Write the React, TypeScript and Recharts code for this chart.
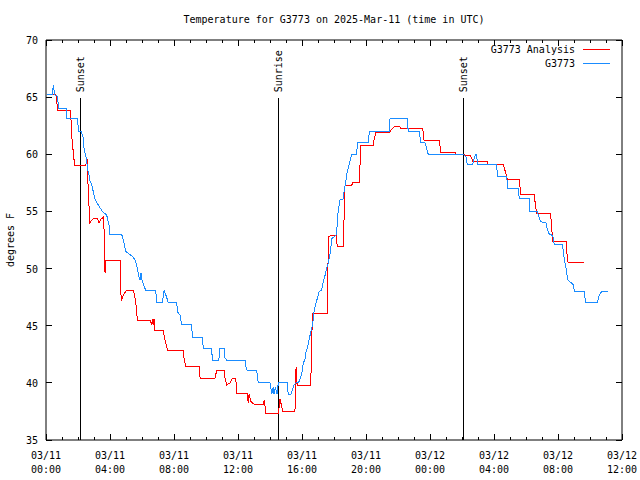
import { LineChart, Line, XAxis, YAxis, ReferenceArea, ReferenceLine } from "recharts";

// hours since 03/11 00:00 UTC, temperatures in degrees F
const obsHours = [
  0.04, 0.38, 0.47, 0.5, 0.56, 0.69, 0.81, 1.29, 1.3, 1.96,
  2.04, 2.21, 2.33, 2.38, 2.48, 2.54, 2.58, 2.69, 2.75, 2.86,
  2.96, 3.06, 3.25, 3.52, 3.79, 3.94, 3.98, 4.73, 4.88, 4.98,
  5.46, 5.61, 5.71, 5.81, 5.88, 5.94, 6.0, 6.23, 6.86, 6.92,
  7.27, 7.38, 7.54, 7.64, 8.17, 8.23, 8.38, 8.48, 9.11, 9.14,
  9.77, 9.83, 10.36, 10.39, 10.81, 10.83, 11.13, 11.19, 11.29, 12.44,
  12.5, 12.58, 13.17, 13.23, 13.27, 14.0, 14.11, 14.19, 14.25, 14.33,
  14.44, 14.52, 15.08, 15.14, 15.31, 15.5, 15.63, 15.83, 15.92, 16.02,
  16.08, 16.19, 16.25, 16.36, 16.46, 16.56, 16.67, 16.71, 16.77, 16.88,
  16.98, 17.08, 17.23, 17.33, 17.44, 17.54, 17.64, 17.71, 17.79, 17.86,
  18.17, 18.21, 18.27, 18.38, 18.58, 18.64, 18.75, 18.83, 18.96, 19.04,
  19.11, 19.42, 19.46, 20.14, 20.21, 21.46, 21.5, 22.58, 22.64, 23.33,
  23.42, 23.69, 23.89, 26.08, 26.25, 26.33, 26.67, 26.75, 26.84, 26.92,
  26.96, 28.17, 28.21, 28.79, 28.86, 29.52, 29.58, 30.21, 30.25, 30.71,
  30.77, 30.92, 31.25, 31.33, 31.46, 31.67, 31.77, 32.29, 32.33, 32.39,
  32.48, 32.54, 32.61, 32.96, 33.02, 33.64, 33.73, 34.46, 34.52, 34.58,
  34.73, 35.14,
];
const obsTemps = [
  65.2, 65.2, 66.1, 65.6, 65.2, 65.1, 64.0, 64.0, 63.1, 63.1,
  62.0, 62.0, 61.4, 60.5, 59.9, 59.6, 58.8, 58.2, 57.7, 57.3,
  56.7, 56.1, 55.6, 55.0, 54.7, 53.8, 53.0, 53.0, 52.2, 51.5,
  51.0, 50.6, 50.0, 49.3, 49.0, 49.6, 49.0, 48.1, 48.1, 47.0,
  47.0, 48.1, 47.5, 47.0, 47.0, 46.2, 45.9, 45.1, 45.1, 44.0,
  44.0, 43.0, 43.0, 42.0, 42.0, 43.0, 43.0, 42.2, 42.0, 42.0,
  41.4, 41.1, 41.1, 40.4, 40.0, 40.0, 39.0, 39.6, 39.0, 39.6,
  39.0, 40.0, 40.0, 39.0, 39.0, 39.8, 40.0, 40.1, 40.5, 41.1,
  41.7, 42.1, 42.7, 43.2, 43.9, 44.5, 45.1, 45.8, 46.4, 47.0,
  47.5, 48.0, 48.1, 48.9, 49.4, 50.0, 50.5, 51.0, 51.6, 52.6,
  53.0, 54.3, 55.1, 56.0, 56.1, 56.9, 57.7, 58.5, 59.2, 59.6,
  60.0, 60.0, 61.0, 61.0, 62.0, 62.0, 63.1, 63.1, 62.0, 62.0,
  61.0, 61.0, 60.0, 60.0, 59.8, 59.1, 59.1, 59.6, 60.0, 60.0,
  59.1, 59.1, 58.1, 58.1, 57.0, 57.0, 56.1, 56.1, 55.0, 55.0,
  54.7, 54.1, 54.0, 53.4, 53.0, 52.9, 52.1, 52.1, 51.5, 50.9,
  50.2, 49.7, 49.0, 48.6, 48.0, 48.0, 47.0, 47.0, 47.4, 47.7,
  48.0, 48.0,
];

const anaHours = [
  0.04, 0.61, 0.67, 0.71, 1.54, 1.6, 1.69, 1.79, 2.48, 2.58,
  2.6, 2.69, 2.73, 2.89, 3.0, 3.21, 3.31, 3.42, 3.58, 3.63,
  3.67, 3.69, 3.72, 4.63, 4.67, 4.71, 4.88, 5.04, 5.46, 5.61,
  5.71, 6.5, 6.61, 6.64, 6.69, 6.75, 6.81, 7.33, 7.44, 7.61,
  8.58, 8.64, 8.75, 9.58, 9.63, 10.56, 10.67, 11.13, 11.19, 11.29,
  11.5, 11.64, 11.86, 11.92, 12.58, 12.64, 12.69, 12.79, 13.02, 13.58,
  13.64, 13.75, 14.52, 14.63, 14.73, 14.79, 15.56, 15.63, 15.67, 15.73,
  16.54, 16.61, 16.64, 17.58, 17.61, 17.67, 17.79, 18.13, 18.21, 18.58,
  18.63, 18.69, 19.11, 19.17, 19.58, 19.63, 19.67, 20.46, 20.52, 20.61,
  21.46, 21.61, 21.75, 22.13, 22.17, 23.54, 23.63, 24.58, 24.67, 25.56,
  25.63, 26.5, 26.56, 26.67, 27.58, 27.64, 28.58, 28.64, 28.75, 28.83,
  29.58, 29.67, 30.5, 30.56, 30.67, 31.54, 31.61, 31.67, 32.5, 32.58,
  32.64, 33.64,
];
const anaTemps = [
  65.2, 65.2, 64.9, 63.8, 63.8, 61.7, 60.4, 59.0, 59.0, 59.6,
  58.2, 55.4, 54.0, 54.3, 54.4, 54.4, 54.0, 54.3, 54.5, 53.4,
  50.7, 49.6, 50.7, 50.7, 48.1, 47.2, 47.8, 48.1, 48.1, 47.1,
  45.5, 45.5, 45.1, 45.6, 45.1, 45.6, 44.6, 44.6, 43.7, 42.8,
  42.8, 42.0, 41.4, 41.4, 40.4, 40.4, 41.1, 41.1, 40.4, 39.8,
  40.0, 40.4, 40.4, 39.1, 39.1, 38.2, 39.0, 38.4, 38.1, 38.1,
  38.5, 37.3, 37.3, 38.6, 37.9, 37.5, 37.5, 41.4, 40.0, 39.8,
  39.8, 43.0, 46.1, 46.1, 49.6, 52.8, 52.9, 52.9, 51.9, 51.9,
  54.5, 57.3, 57.3, 57.5, 57.5, 59.2, 60.8, 60.8, 61.4, 61.9,
  61.9, 62.2, 62.4, 62.4, 62.3, 62.3, 61.2, 61.2, 60.2, 60.2,
  60.0, 59.9, 59.8, 59.4, 59.4, 59.1, 59.1, 58.8, 58.3, 57.8,
  57.8, 56.5, 56.5, 55.9, 54.8, 54.8, 53.5, 52.4, 52.4, 51.0,
  50.5, 50.5,
];

const hourTicks = Array.from({ length: 37 }, (_, i) => i);
const xTickDates = ["03/11", "03/11", "03/11", "03/11", "03/11", "03/11", "03/12", "03/12", "03/12", "03/12"];
const xTickTimes = ["00:00", "04:00", "08:00", "12:00", "16:00", "20:00", "00:00", "04:00", "08:00", "12:00"];
const yTicks = [35, 40, 45, 50, 55, 60, 65, 70];

const sunEvents = ["Sunset", "Sunrise", "Sunset"];
const sunHours = [2.13, 14.52, 26.08];

const seriesNames = ["G3773 Analysis", "G3773"];
const seriesColors = ["#ff0000", "#1a8cff"];

const obsData = obsHours.map((h, i) => ({ h, t: obsTemps[i] }));
const anaData = anaHours.map((h, i) => ({ h, t: anaTemps[i] }));

const FONT = "'DejaVu Sans Mono', monospace";
const W = 640;
const H = 480;
const M = { top: 40, right: 18, bottom: 0, left: 0 };
const PLOT_W = W - 46 - M.right;
const PLOT_H = H - M.top - 40;
const SUN_TOP = 64.9;

const XTick = (props: any) => {
  const { x, y, payload } = props;
  const h = payload.value;
  const major = h % 4 === 0;
  const len = major ? 6 : 3;
  return (
    <g>
      <line x1={x} y1={y} x2={x} y2={y - len} stroke="#000" shapeRendering="crispEdges" />
      <line x1={x} y1={y - PLOT_H} x2={x} y2={y - PLOT_H + len} stroke="#000" shapeRendering="crispEdges" />
      {major && (
        <text x={x} y={y + 19} textAnchor="middle" fontFamily={FONT} fontSize={10} fill="#000">
          <tspan x={x}>{xTickDates[h / 4]}</tspan>
          <tspan x={x} dy={14}>{xTickTimes[h / 4]}</tspan>
        </text>
      )}
    </g>
  );
};

const YTick = (props: any) => {
  const { x, y, payload } = props;
  return (
    <g>
      <line x1={x} y1={y} x2={x + 6} y2={y} stroke="#000" shapeRendering="crispEdges" />
      <line x1={x + PLOT_W} y1={y} x2={x + PLOT_W - 6} y2={y} stroke="#000" shapeRendering="crispEdges" />
      <text x={x - 8} y={y + 4} textAnchor="end" fontFamily={FONT} fontSize={10} fill="#000">
        {payload.value}
      </text>
    </g>
  );
};

const sunShape = (name: string) => (p: any) => (
  <g>
    <line x1={p.x1} y1={p.y1} x2={p.x2} y2={p.y2} stroke="#000" shapeRendering="crispEdges" />
    <text
      x={p.x1 + 4}
      y={Math.min(p.y1, p.y2) - 6}
      transform={`rotate(-90 ${p.x1 + 4} ${Math.min(p.y1, p.y2) - 6})`}
      fontFamily={FONT}
      fontSize={10}
      fill="#000"
    >
      {name}
    </text>
  </g>
);

export default function App() {
  return (
    <div style={{ position: "absolute", left: 0, top: 0, width: W, height: H, background: "#fff" }}>
      <LineChart width={W} height={H} margin={M}>
        <text x={334} y={23} textAnchor="middle" fontFamily={FONT} fontSize={10} fill="#000">
          Temperature for G3773 on 2025-Mar-11 (time in UTC)
        </text>
        <text x={14} y={240} textAnchor="middle" transform="rotate(-90 14 240)" fontFamily={FONT} fontSize={10} fill="#000">
          degrees F
        </text>
        <XAxis
          dataKey="h"
          type="number"
          domain={[0, 36]}
          ticks={hourTicks}
          interval={0}
          allowDataOverflow
          axisLine={false}
          tickLine={false}
          tickSize={0}
          tickMargin={0}
          height={40}
          tick={XTick}
        />
        <YAxis
          type="number"
          domain={[35, 70]}
          ticks={yTicks}
          interval={0}
          allowDataOverflow
          axisLine={false}
          tickLine={false}
          tickSize={0}
          tickMargin={0}
          width={46}
          tick={YTick}
        />
        <ReferenceArea x1={0} x2={36} y1={35} y2={70} fill="none" stroke="#000" strokeWidth={1} fillOpacity={0} />
        {sunHours.map((h, i) => (
          <ReferenceLine
            key={i}
            segment={[{ x: h, y: 35 }, { x: h, y: SUN_TOP }]}
            shape={sunShape(sunEvents[i])}
          />
        ))}
        <Line
          data={anaData}
          dataKey="t"
          type="linear"
          stroke={seriesColors[0]}
          strokeWidth={1}
          shapeRendering="crispEdges"
          dot={false}
          activeDot={false}
          isAnimationActive={false}
        />
        <Line
          data={obsData}
          dataKey="t"
          type="linear"
          stroke={seriesColors[1]}
          strokeWidth={1}
          shapeRendering="crispEdges"
          dot={false}
          activeDot={false}
          isAnimationActive={false}
        />
        {seriesNames.map((name, i) => (
          <g key={name}>
            <text x={575} y={53 + i * 14} textAnchor="end" fontFamily={FONT} fontSize={10} fill="#000">
              {name}
            </text>
            <line x1={583} x2={610} y1={49.5 + i * 14} y2={49.5 + i * 14} stroke={seriesColors[i]} strokeWidth={1} />
          </g>
        ))}
      </LineChart>
    </div>
  );
}
